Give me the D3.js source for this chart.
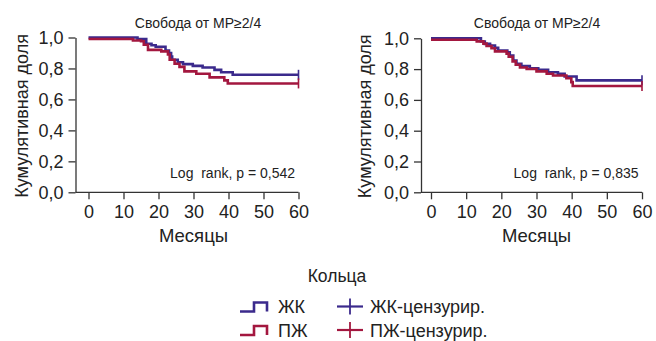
<!DOCTYPE html>
<html><head><meta charset="utf-8">
<script src="https://cdn.jsdelivr.net/npm/d3@7"></script>
<style>
body{margin:0;background:#fff;}
text{font-family:"Liberation Sans",Arial,sans-serif;fill:#222;}
</style></head><body>
<svg id="c" width="656" height="341"></svg>
<script>
const xTicks = [0,10,20,30,40,50,60];
const yTicks = [0,0.2,0.4,0.6,0.8,1.0];
const title = "Свобода от МР≥2/4";
const yLabel = "Кумулятивная доля";
const xLabel = "Месяцы";
const legendTitle = "Кольца";
const groups = ["ЖК","ПЖ"];
const censLabels = ["ЖК-цензурир.","ПЖ-цензурир."];
const colors = ["#3b2a8c","#a3173f"];

// Left panel
const leftBlueT = [0,14,16.5,18,19.2,22,23,23.6,23.9,25.5,27,29.8,32.6,36,37.9,41.2,60];
const leftBlueS = [1,0.99,0.96,0.95,0.94,0.916,0.90,0.877,0.856,0.84,0.828,0.817,0.806,0.791,0.776,0.759,0.759];
const leftRedT  = [0,12.7,15,15.8,17,20.8,22.7,23.2,24.6,26,27.4,30.8,34.6,38.8,39.8,60];
const leftRedS  = [1,0.99,0.985,0.963,0.93,0.92,0.9,0.866,0.84,0.82,0.791,0.776,0.752,0.733,0.713,0.713];
const leftP = "Log  rank, p = 0,542";
// Right panel
const rightBlueT = [0,14.2,15.3,16.8,18.2,19.1,21.7,22.4,23.4,24.3,25.7,28.1,30.5,33.3,36.1,38,41.4,60];
const rightBlueS = [1,0.979,0.964,0.953,0.938,0.92,0.909,0.888,0.856,0.834,0.819,0.806,0.795,0.78,0.77,0.752,0.727,0.727];
const rightRedT  = [0,13,14.9,15.8,17.2,18.2,21.5,22.1,23.2,24.1,25.3,27.2,30,32.9,34.7,38.5,39.9,40.3,60];
const rightRedS  = [1,0.99,0.975,0.96,0.945,0.925,0.91,0.89,0.86,0.838,0.82,0.81,0.795,0.78,0.768,0.75,0.725,0.70,0.70];
const rightP = "Log  rank, p = 0,835";

const svg = d3.select("#c");
const fmt = d => d3.format(".1f")(d).replace(".", ",");

function panel(cfg){
  const g = svg.append("g");
  const x = d3.scaleLinear().domain([0,60]).range([cfg.x0, cfg.x60]);
  const y = d3.scaleLinear().domain([0,1]).range([cfg.y0, cfg.y1]);
  // y axis
  const ya = g.append("g").attr("transform",`translate(${cfg.ax},0)`)
    .call(d3.axisLeft(y).tickValues(yTicks).tickFormat(fmt).tickSize(7).tickSizeOuter(0).tickPadding(5));
  ya.select(".domain").attr("stroke","#333").attr("stroke-width",1.3);
  ya.selectAll(".tick line").attr("stroke","#333").attr("stroke-width",1.3);
  ya.selectAll("text").style("font-size","18px").attr("fill","#222");
  // x axis
  const xa = g.append("g").attr("transform",`translate(0,${cfg.y0})`)
    .call(d3.axisBottom(x).tickValues(xTicks).tickSize(7).tickSizeOuter(0).tickPadding(6));
  xa.select(".domain").remove();
  xa.selectAll(".tick line").attr("stroke","#333").attr("stroke-width",1.3);
  xa.selectAll("text").style("font-size","18px").attr("fill","#222");
  g.append("line").attr("x1",cfg.ax).attr("x2",x(60)).attr("y1",cfg.y0).attr("y2",cfg.y0)
    .attr("stroke","#333").attr("stroke-width",1.3);
  // labels
  g.append("text").attr("x",(x(0)+x(60))/2).attr("y",cfg.y0+49.5).attr("text-anchor","middle")
    .style("font-size","18.5px").text(xLabel);
  g.append("text").attr("transform",`translate(${cfg.ylx},${(cfg.y0+cfg.y1)/2+1}) rotate(-90)`)
    .attr("text-anchor","middle").style("font-size","18px").text(yLabel);
  g.append("text").attr("x",cfg.tx).attr("y",28.3).attr("text-anchor","middle")
    .style("font-size","14px").text(title);
  g.append("text").attr("x",x(60)-3.5).attr("y",178).attr("text-anchor","end")
    .attr("xml:space","preserve").style("white-space","pre")
    .style("font-size","14px").text(cfg.p);
  const line = d3.line().curve(d3.curveStepAfter).x(d=>x(d[0])).y(d=>y(d[1]));
  const series = [[cfg.bT,cfg.bS,0,0],[cfg.rT,cfg.rS,1,1.5]];
  series.forEach(([T,S,i,off])=>{
    const pts = T.map((t,k)=>[t,S[k]]);
    g.append("path").attr("d",line(pts)).attr("fill","none").attr("stroke",colors[i])
      .attr("stroke-width",2.6).attr("transform",`translate(0,${off})`);
    const last = pts[pts.length-1];
    g.append("line").attr("x1",x(last[0])).attr("x2",x(last[0]))
      .attr("y1",y(last[1])-5+off).attr("y2",y(last[1])+5+off)
      .attr("stroke",colors[i]).attr("stroke-width",1.6);
  });
}

panel({ax:75.5,x0:88.5,x60:298.5,y0:192.3,y1:37.5,tx:198,ylx:28,bT:leftBlueT,bS:leftBlueS,rT:leftRedT,rS:leftRedS,p:leftP});
panel({ax:421,x0:431,x60:642,y0:192.3,y1:38.3,tx:537,ylx:370.5,bT:rightBlueT,bS:rightBlueS,rT:rightRedT,rS:rightRedS,p:rightP});

// legend
const lg = svg.append("g");
lg.append("text").attr("x",337).attr("y",281.5).attr("text-anchor","middle").style("font-size","17.5px").text(legendTitle);
groups.forEach((name,i)=>{
  const yb = 311.5 + i*23.5;
  lg.append("path").attr("d",`M240,${yb}H254V${yb-9}H267V${yb}`)
    .attr("fill","none").attr("stroke",colors[i]).attr("stroke-width",2.6);
  lg.append("text").attr("x",278).attr("y",yb+1.5).style("font-size","18px").text(name);
  const yc = yb-5;
  lg.append("line").attr("x1",337).attr("x2",363).attr("y1",yc).attr("y2",yc)
    .attr("stroke",colors[i]).attr("stroke-width",2.2);
  lg.append("line").attr("x1",350).attr("x2",350).attr("y1",yc-8).attr("y2",yc+8)
    .attr("stroke",colors[i]).attr("stroke-width",1.8);
  lg.append("text").attr("x",370).attr("y",yb+1.5).style("font-size","18px").text(censLabels[i]);
});
</script></body></html>
